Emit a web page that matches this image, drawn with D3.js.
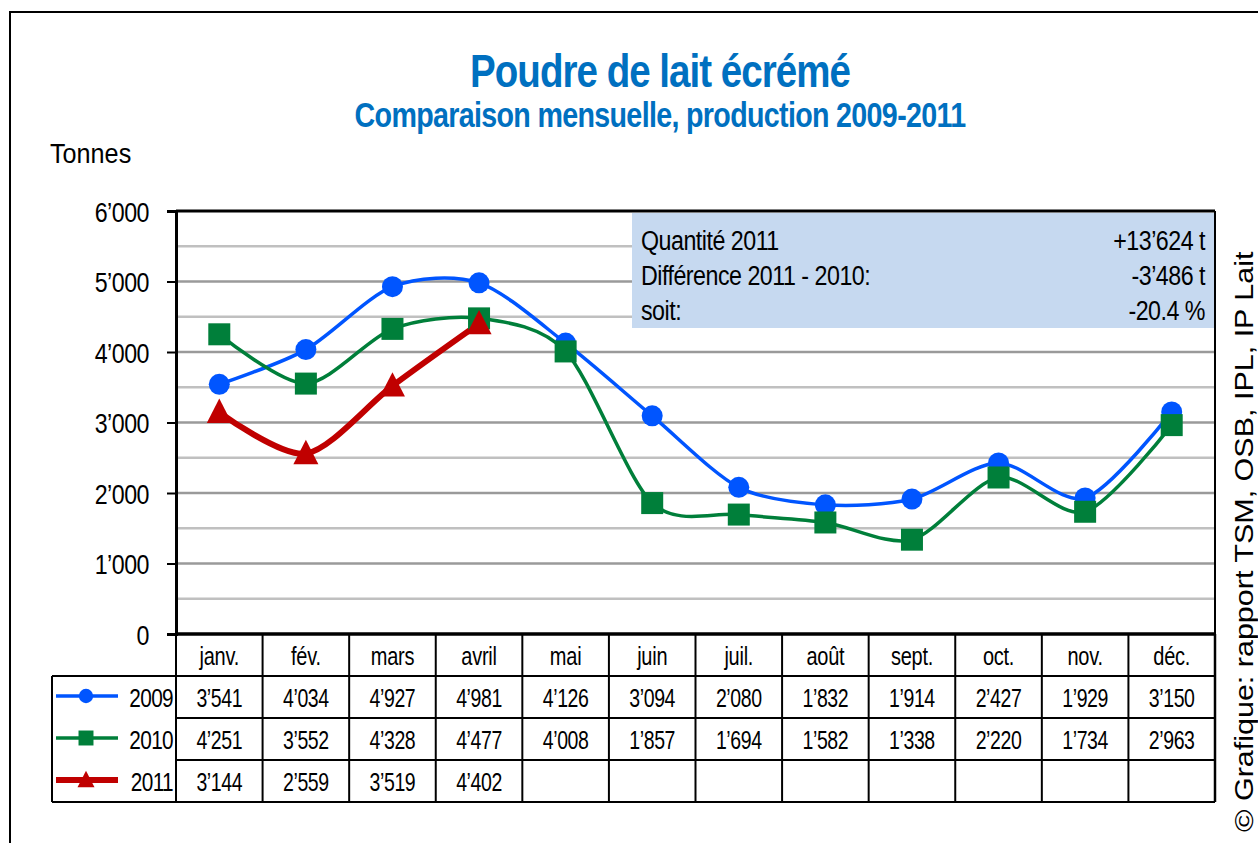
<!DOCTYPE html>
<html>
<head>
<meta charset="utf-8">
<script src="https://cdn.jsdelivr.net/npm/d3@7"></script>
<style>
  body { margin: 0; background: #fff; }
  svg { display: block; font-family: "Liberation Sans", Arial, sans-serif; }
</style>
</head>
<body>
<div id="chart"></div>
<script>
// data
const months = ['janv.', 'fév.', 'mars', 'avril', 'mai', 'juin', 'juil.', 'août', 'sept.', 'oct.', 'nov.', 'déc.'];
const values2009 = [3541, 4034, 4927, 4981, 4126, 3094, 2080, 1832, 1914, 2427, 1929, 3150];
const values2010 = [4251, 3552, 4328, 4477, 4008, 1857, 1694, 1582, 1338, 2220, 1734, 2963];
const values2011 = [3144, 2559, 3519, 4402];
const yTicks = [0, 1000, 2000, 3000, 4000, 5000, 6000];
const infoLabels = ['Quantité 2011', 'Différence 2011 - 2010:', 'soit:'];
const infoValues = ['+13’624 t', '-3’486 t', '-20.4 %'];

const series = [
  { name: '2009', values: values2009, color: '#0055ff', width: 3.5, marker: 'circle' },
  { name: '2010', values: values2010, color: '#007f3a', width: 3.5, marker: 'square' },
  { name: '2011', values: values2011, color: '#c00000', width: 6, marker: 'triangle' }
];

const W = 1258, H = 843;
const plot = { left: 176, right: 1215, top: 211, bottom: 634 };
const rowH = 42;
const SX = 0.83; // the original picture is squeezed horizontally

const locale = d3.formatLocale({ decimal: '.', thousands: '’', grouping: [3], currency: ['', ''] });
const fmt = locale.format(',d');

const svg = d3.select('#chart').append('svg').attr('width', W).attr('height', H);

// narrow text helper
function label(g, x, y, text, o) {
  o = o || {};
  return g.append('text')
    .attr('transform', `translate(${x},${y}) scale(${o.sx || SX},1)`)
    .attr('text-anchor', o.anchor || 'start')
    .attr('font-size', o.size || 25)
    .attr('font-weight', o.weight || 'normal')
    .attr('fill', o.fill || '#000')
    .attr('letter-spacing', o.ls || 0)
    .text(text);
}

// outer frame
svg.append('rect')
  .attr('x', 10).attr('y', 12).attr('width', W + 20).attr('height', H + 20)
  .attr('fill', 'none').attr('stroke', '#000').attr('stroke-width', 2);

// titles
label(svg, 660, 87, 'Poudre de lait écrémé', { size: 47, weight: 'bold', fill: '#0070c0', anchor: 'middle', ls: -1.2, sx: 0.82 });
label(svg, 660, 127, 'Comparaison mensuelle, production 2009-2011', { size: 34.5, weight: 'bold', fill: '#0070c0', anchor: 'middle', ls: -0.8 });
label(svg, 50, 163, 'Tonnes', { size: 28, sx: 0.9 });

const x = d3.scaleBand().domain(months).range([plot.left, plot.right]);
const y = d3.scaleLinear().domain([0, 6000]).range([plot.bottom, plot.top]);

// gridlines (every 500, darker on thousands)
const grid = d3.range(500, 6000, 500);
svg.append('g').selectAll('line')
  .data(grid)
  .join('line')
  .attr('x1', plot.left).attr('x2', plot.right)
  .attr('y1', d => y(d)).attr('y2', d => y(d))
  .attr('stroke', d => d % 1000 === 0 ? '#9a9a9a' : '#c0c0c0')
  .attr('stroke-width', 2.5);

// info box
const box = svg.append('g');
box.append('rect')
  .attr('x', 632).attr('y', plot.top + 2)
  .attr('width', plot.right - 632).attr('height', 115)
  .attr('fill', '#c6d9f0');
infoLabels.forEach((t, i) => {
  label(box, 641, 250 + i * 35, t, { size: 28, ls: -0.6 });
  label(box, 1205, 250 + i * 35, infoValues[i], { size: 28, ls: -0.6, anchor: 'end' });
});

// y axis
const yAxis = svg.append('g')
  .attr('transform', `translate(${plot.left},0)`)
  .call(d3.axisLeft(y).tickValues(yTicks).tickFormat(fmt).tickSize(9).tickPadding(0));
yAxis.select('.domain').attr('stroke', '#000').attr('stroke-width', 3);
yAxis.selectAll('.tick line').attr('stroke', '#000').attr('stroke-width', 2);
yAxis.selectAll('.tick text')
  .attr('x', null).attr('dy', null)
  .attr('transform', `translate(-27,10) scale(${SX},1)`)
  .attr('font-size', 28).attr('letter-spacing', -0.6).attr('fill', '#000')
  .attr('font-family', '"Liberation Sans", Arial, sans-serif');

// plot frame top/right
svg.append('line')
  .attr('x1', plot.left).attr('x2', plot.right)
  .attr('y1', plot.top).attr('y2', plot.top)
  .attr('stroke', '#000').attr('stroke-width', 3);
svg.append('line')
  .attr('x1', plot.right).attr('x2', plot.right)
  .attr('y1', plot.top).attr('y2', plot.bottom)
  .attr('stroke', '#000').attr('stroke-width', 2);

// lines
const cx = i => x(months[i]) + x.bandwidth() / 2;
const line = d3.line()
  .x((d, i) => cx(i))
  .y(d => y(d))
  .curve(d3.curveCardinal.tension(0.15));

svg.append('g').selectAll('path')
  .data(series)
  .join('path')
  .attr('d', d => line(d.values))
  .attr('fill', 'none')
  .attr('stroke', d => d.color)
  .attr('stroke-width', d => d.width);

function drawMarker(g, type, color, px, py, s) {
  if (type === 'circle') {
    g.append('circle').attr('cx', px).attr('cy', py).attr('r', 10.5 * s).attr('fill', color);
  } else if (type === 'square') {
    const h = 11 * s;
    g.append('rect').attr('x', px - h).attr('y', py - h).attr('width', 2 * h).attr('height', 2 * h).attr('fill', color);
  } else {
    const h = 12.5 * s;
    g.append('path')
      .attr('d', `M${px},${py - h * 1.1}L${px + h},${py + h * 0.85}L${px - h},${py + h * 0.85}Z`)
      .attr('fill', color);
  }
}

// markers
const markers = svg.append('g');
series.forEach(s => {
  s.values.forEach((v, i) => drawMarker(markers, s.marker, s.color, cx(i), y(v), 1));
});

// data table
const table = svg.append('g');
const tableLeft = 52;
const tableBottom = plot.bottom + rowH * 4;

months.forEach((m, i) => {
  label(table, cx(i), plot.bottom + 31, m, { size: 25, anchor: 'middle', sx: 0.8, ls: -0.3 });
});

series.forEach((s, r) => {
  const ry = plot.bottom + rowH * (r + 1);
  s.values.forEach((v, i) => {
    label(table, cx(i), ry + 31, fmt(v), { size: 25, anchor: 'middle', sx: 0.78, ls: -0.5 });
  });
  // legend key
  table.append('line')
    .attr('x1', 56).attr('x2', 118).attr('y1', ry + 20).attr('y2', ry + 20)
    .attr('stroke', s.color).attr('stroke-width', s.width);
  drawMarker(table, s.marker, s.color, 86, ry + 20, 0.68);
  label(table, 173, ry + 31, s.name, { size: 26, anchor: 'end', sx: 0.8, ls: -0.8 });
});

// table grid
d3.range(1, 5).forEach(k => {
  table.append('line')
    .attr('x1', k === 1 ? tableLeft : plot.left).attr('x2', plot.right)
    .attr('y1', plot.bottom + rowH * k).attr('y2', plot.bottom + rowH * k)
    .attr('stroke', '#000').attr('stroke-width', 2);
});
table.append('line')
  .attr('x1', tableLeft).attr('x2', plot.left)
  .attr('y1', tableBottom).attr('y2', tableBottom)
  .attr('stroke', '#000').attr('stroke-width', 2);
months.forEach(m => {
  table.append('line')
    .attr('x1', x(m)).attr('x2', x(m))
    .attr('y1', plot.bottom).attr('y2', tableBottom)
    .attr('stroke', '#000').attr('stroke-width', 2);
});
table.append('line')
  .attr('x1', plot.right).attr('x2', plot.right)
  .attr('y1', plot.bottom).attr('y2', tableBottom)
  .attr('stroke', '#000').attr('stroke-width', 2.5);
table.append('line')
  .attr('x1', tableLeft).attr('x2', tableLeft)
  .attr('y1', plot.bottom + rowH).attr('y2', tableBottom)
  .attr('stroke', '#000').attr('stroke-width', 2);
// x axis line
svg.append('line')
  .attr('x1', plot.left - 1).attr('x2', plot.right)
  .attr('y1', plot.bottom).attr('y2', plot.bottom)
  .attr('stroke', '#000').attr('stroke-width', 3.5);

// source, vertical
svg.append('text')
  .attr('transform', `translate(1253,832) scale(${SX},1) rotate(-90)`)
  .attr('font-size', 30.5)
  .text('© Grafique: rapport TSM, OSB, IPL, IP Lait');
</script>
</body>
</html>
